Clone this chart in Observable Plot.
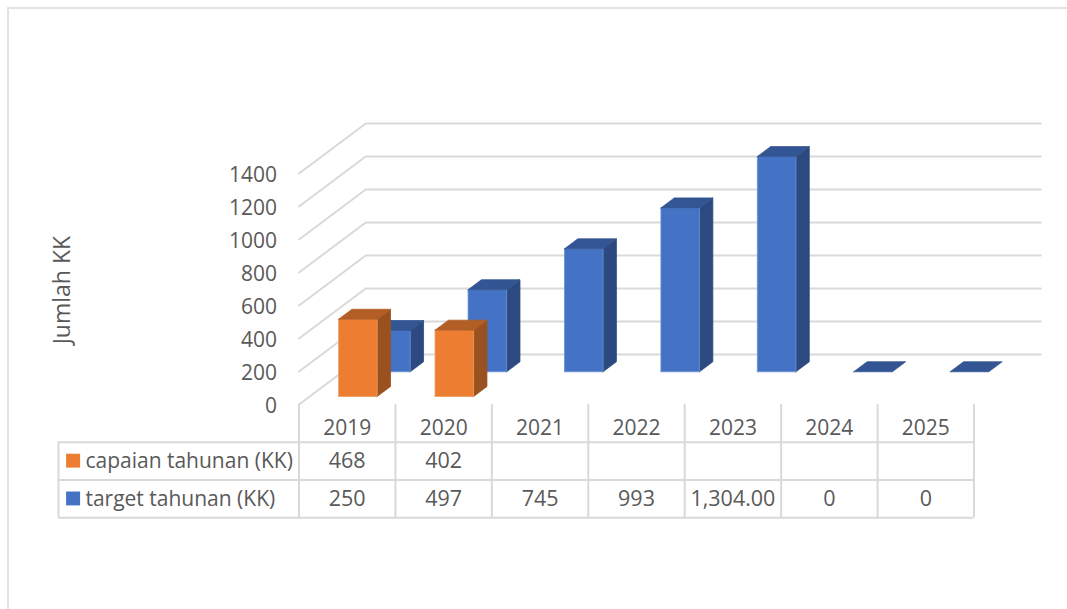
<!DOCTYPE html>
<html>
<head>
<meta charset="utf-8">
<script src="https://cdn.jsdelivr.net/npm/d3@7"></script>
<script src="https://cdn.jsdelivr.net/npm/@observablehq/plot@0.6"></script>
<style>
  html, body { margin: 0; padding: 0; background: #fff; overflow: hidden; }
  #sheet { position: absolute; left: 7px; top: 7px; right: 0; bottom: 0; border-left: 2px solid #e2e2e2; border-top: 2px solid #e2e2e2; }
  #chart { position: absolute; left: 0; top: 0; }
</style>
</head>
<body>
<div id="sheet"></div>
<div id="chart"></div>
<script>
const years = ["2019", "2020", "2021", "2022", "2023", "2024", "2025"];
const capaian = [468, 402, null, null, null, null, null];
const target = [250, 497, 745, 993, 1304, 0, 0];
const capaianLabels = ["468", "402", "", "", "", "", ""];
const targetLabels = ["250", "497", "745", "993", "1,304.00", "0", "0"];
const yTicks = [0, 200, 400, 600, 800, 1000, 1200, 1400];
const capaianName = "capaian tahunan (KK)";
const targetName = "target tahunan (KK)";

const ink = "#595959";
const rule = "#d9d9d9";
const font = "'Open Sans', sans-serif";

// Oblique projection: one unit of depth shifts a point right and up, in scale units.
const depthX = 0.692;
const depthY = 303;
const project = (cat, value, depth) => ({x: cat + depthX * depth, y: value + depthY * depth});

// Each bar is three flat faces; the column fills 40% of its category and 20% of the floor depth.
function faces(values, near, colors) {
  const far = near + 0.2;
  const out = [];
  values.forEach((v, i) => {
    if (v == null) return;
    const l = i + 0.3, r = i + 0.7;
    const poly = (id, fill, edge, pts) =>
      [...pts, pts[0]].forEach((p) => out.push({id: `${i}-${id}`, fill, edge, ...project(...p)}));
    if (v > 0) {
      poly("side", colors.side, colors.side, [[r, 0, near], [r, 0, far], [r, v, far], [r, v, near]]);
      poly("front", colors.front, colors.edge, [[l, 0, near], [r, 0, near], [r, v, near], [l, v, near]]);
    }
    poly("top", colors.top, colors.top, [[l, v, near], [r, v, near], [r, v, far], [l, v, far]]);
  });
  return out;
}
const faceMark = (rows) => Plot.line(rows, {x: "x", y: "y", z: "id", fill: "fill", stroke: "edge", strokeWidth: 0.8});

const blue = {front: "#4472c4", edge: "#6b90d6", top: "#335593", side: "#2c4a7f"};
const orange = {front: "#ed7d31", edge: "#f39a5e", top: "#b25e25", side: "#9a5120"};

// Walls: each gridline runs back along the side wall, then across the back wall.
const gridRows = yTicks.flatMap((v) => [
  {v, ...project(0, v, 0)},
  {v, ...project(0, v, 1)},
  {v, ...project(years.length, v, 1)}
]);

// Data table sits under the floor; its rows are measured in value units.
const rowH = 229;
const tableLeft = -2.494;
const rowMid = (k) => -(k + 0.5) * rowH;
const headerY = -146;
const cellRows = (labels, k) => labels.map((label, i) => ({label, x: i + 0.5, y: rowMid(k)}));
const textStyle = {fontSize: 21, fill: ink, fontFamily: font};
const valueStyle = {...textStyle, fontSize: 21.5};

const chart = Plot.plot({
  width: 1067,
  height: 609,
  marginLeft: 298.5,
  marginRight: 93.5,
  marginTop: 173,
  marginBottom: 205,
  style: {fontFamily: font, background: "transparent"},
  x: {domain: [0, years.length], axis: null},
  y: {domain: [0, 1400], label: null},
  marks: [
    Plot.line(gridRows, {x: "x", y: "y", z: "v", stroke: rule, strokeWidth: 2}),
    Plot.axisY({ticks: yTicks, tickSize: 0, tickPadding: 22, dy: 2, fontSize: 21, fill: ink, label: null, tickFormat: (d) => String(d)}),
    Plot.text(["Jumlah KK"], {x: [-2.455], y: [693], text: (d) => d, rotate: -90, ...textStyle, fontSize: 23}),

    faceMark(faces(target, 0.655, blue)),
    faceMark(faces(capaian, 0.16, orange)),

    // Table rules
    Plot.ruleX(d3.range(years.length + 1), {x: (d) => d, y1: 0, y2: -3 * rowH, stroke: rule, strokeWidth: 2}),
    Plot.ruleX([tableLeft], {x: (d) => d, y1: -rowH, y2: -3 * rowH, stroke: rule, strokeWidth: 2}),
    Plot.ruleY([1, 2, 3], {y: (k) => -k * rowH, x1: tableLeft, x2: years.length, stroke: rule, strokeWidth: 2}),

    // Table contents
    Plot.text(years, {x: (d, i) => i + 0.5, y: () => headerY, text: (d) => d, ...textStyle}),
    Plot.text(cellRows(capaianLabels, 1), {x: "x", y: "y", text: "label", ...valueStyle}),
    Plot.text(cellRows(targetLabels, 2), {x: "x", y: "y", text: "label", ...valueStyle}),

    // Series keys in the first column
    Plot.rect([{k: 1, fill: orange.front}, {k: 2, fill: blue.front}], {
      x1: -2.41, x2: -2.265,
      y1: (d) => rowMid(d.k) - 42, y2: (d) => rowMid(d.k) + 42,
      fill: "fill"
    }),
    Plot.text([{k: 1, label: capaianName}, {k: 2, label: targetName}], {
      x: -2.215, y: (d) => rowMid(d.k), text: "label", textAnchor: "start", ...textStyle
    })
  ]
});
document.getElementById("chart").append(chart);
</script>
</body>
</html>
